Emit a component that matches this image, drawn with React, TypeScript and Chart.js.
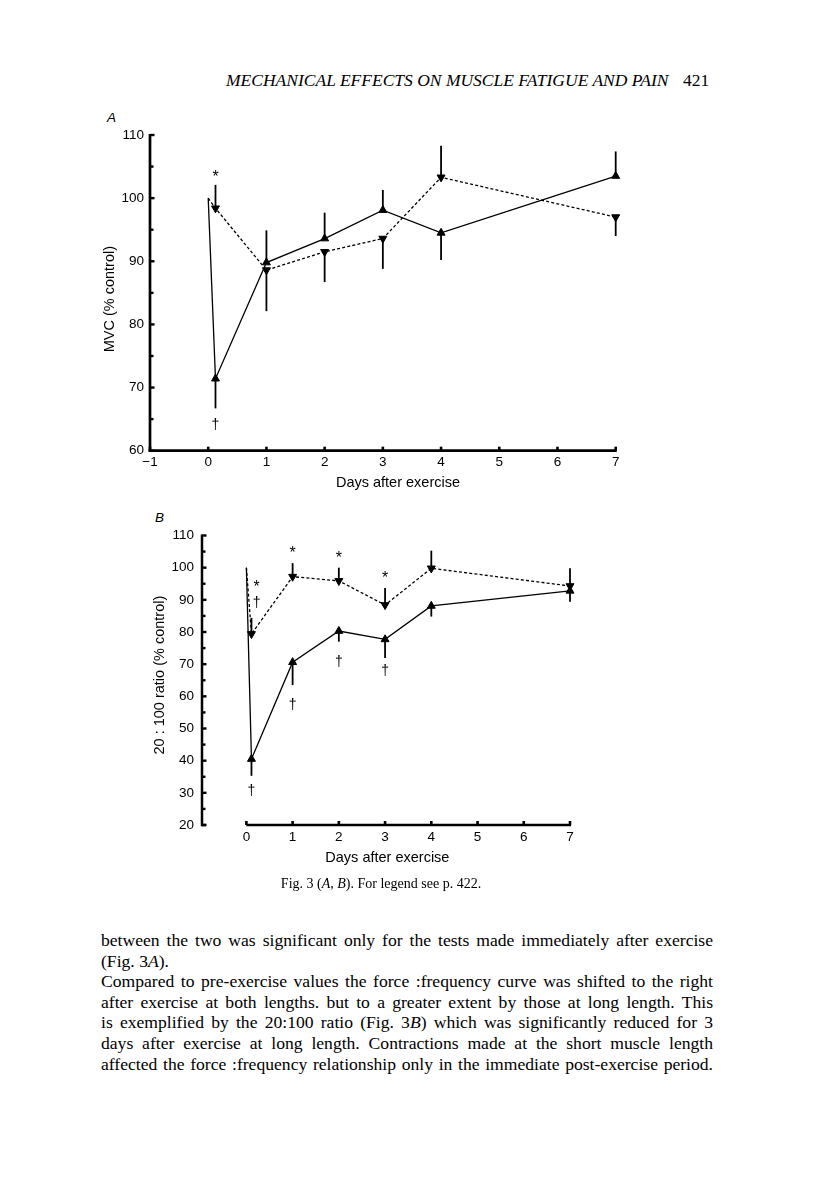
import React, { useEffect, useRef } from "react";
import { Chart, registerables } from "chart.js";

Chart.register(...registerables);

// ---------- Panel A : MVC (% control) ----------
const daysA = [0, 0.125, 1, 2, 3, 4, 7];
const solidA = [100, 71.4, 89.8, 93.6, 98.1, 94.5, 103.5];
const solidAErr = [null, 66.7, 94.9, 97.7, 101.3, 90.2, 107.4];
const dashedA = [100, 98.4, 88.6, 91.5, 93.6, 103.3, 97.0];
const dashedAErr = [null, 102.1, 82.1, 86.7, 88.8, 108.3, 94.0];
const markAX = [0.125, 0.125];
const markAY = [103.5, 64.1];
const markAText = ["*", "\u2020"];
const xTicksA = [-1, 0, 1, 2, 3, 4, 5, 6, 7];

// ---------- Panel B : 20:100 ratio (% control) ----------
const daysB = [0, 0.11, 1, 2, 3, 4, 7];
const solidB = [100, 40.5, 70.6, 80.3, 77.7, 88.1, 92.8];
const solidBErr = [null, 35.3, 63.5, 77.0, 71.9, 84.8, 89.4];
const dashedB = [100, 79.4, 97.2, 95.9, 88.4, 99.8, 94.3];
const dashedBErr = [null, 84.4, 101.4, 100.0, 93.7, 105.3, 99.8];
const markBX = [0.22, 0.22, 1, 2, 3, 0.11, 1, 2, 3];
const markBY = [94.5, 88.9, 104.9, 103.4, 97.2, 30.4, 57.3, 70.5, 67.7];
const markBText = ["*", "\u2020", "*", "*", "*", "\u2020", "\u2020", "\u2020", "\u2020"];
const xTicksB = [0, 1, 2, 3, 4, 5, 6, 7];

const SANS = '"Liberation Sans", Arial, Helvetica, sans-serif';
const SERIF = '"Liberation Serif", "Times New Roman", serif';

type PanelCfg = {
  left: number; top: number; w: number; h: number;
  padTop: number; padRight: number; yWidth: number; xHeight: number;
  xMin: number; xMax: number; yMin: number; yMax: number;
  xTicks: number[]; xAxisFrom: number; hook: boolean;
  days: number[]; solid: number[]; solidErr: (number | null)[];
  dashed: number[]; dashedErr: (number | null)[];
  markX: number[]; markY: number[]; markText: string[];
  xTitle: string; xTitleAt: number; xTitleOff: number;
  yTitle: string; yTitleAt: number; yTitleOff: number;
  yTickPad: number; xTickPad: number; axisW: number;
};

const decorPlugin = {
  id: "decor",
  beforeDatasetsDraw(chart: any) {
    const cfg: PanelCfg = chart.options.plugins.decor.cfg;
    const { ctx, chartArea } = chart;
    const xs = chart.scales.x;
    const ys = chart.scales.y;
    ctx.save();
    ctx.fillStyle = "#000";
    ctx.strokeStyle = "#000";
    const left = chartArea.left;
    const bottom = ys.getPixelForValue(cfg.yMin);
    const yTop = ys.getPixelForValue(cfg.yMax);
    // y axis line
    ctx.lineWidth = cfg.axisW;
    ctx.beginPath();
    ctx.moveTo(left, yTop - 1);
    ctx.lineTo(left, bottom + cfg.axisW / 2);
    ctx.stroke();
    // y ticks every 5 units (major + minor)
    for (let v = cfg.yMin; v <= cfg.yMax; v += 5) {
      const y = ys.getPixelForValue(v);
      const len = v % 10 === 0 ? 4.5 : 3.5;
      ctx.fillRect(left, y - 1.2, len, 2.4);
    }
    if (cfg.hook) {
      ctx.fillRect(left, bottom - cfg.axisW / 2, 4, cfg.axisW);
    }
    // x axis line
    const x0 = xs.getPixelForValue(cfg.xAxisFrom);
    const x1 = xs.getPixelForValue(cfg.xMax);
    ctx.beginPath();
    ctx.moveTo(x0 - (cfg.hook ? 0 : cfg.axisW / 2), bottom);
    ctx.lineTo(x1 + 1, bottom);
    ctx.stroke();
    for (const v of cfg.xTicks) {
      const x = xs.getPixelForValue(v);
      ctx.fillRect(x - 1.3, bottom - 4, 2.6, 4);
    }
    // error bars
    ctx.lineWidth = 1.8;
    chart.data.datasets.forEach((ds: any) => {
      const err = ds.errEnd;
      if (!err) return;
      ds.data.forEach((p: any, j: number) => {
        if (err[j] == null) return;
        const x = xs.getPixelForValue(p.x);
        ctx.beginPath();
        ctx.moveTo(x, ys.getPixelForValue(p.y));
        ctx.lineTo(x, ys.getPixelForValue(err[j]));
        ctx.stroke();
      });
    });
    ctx.restore();
  },
  afterDatasetsDraw(chart: any) {
    const cfg: PanelCfg = chart.options.plugins.decor.cfg;
    const { ctx, chartArea } = chart;
    const xs = chart.scales.x;
    const ys = chart.scales.y;
    ctx.save();
    ctx.fillStyle = "#000";
    ctx.textAlign = "center";
    ctx.textBaseline = "middle";
    cfg.markText.forEach((t, i) => {
      ctx.font = t === "*" ? `16px ${SANS}` : `14px ${SANS}`;
      const dy = t === "*" ? 2 : 0;
      ctx.fillText(t, xs.getPixelForValue(cfg.markX[i]), ys.getPixelForValue(cfg.markY[i]) + dy);
    });
    // axis titles
    ctx.font = `14.5px ${SANS}`;
    ctx.fillText(cfg.xTitle, xs.getPixelForValue(cfg.xTitleAt), chartArea.bottom + cfg.xTitleOff);
    ctx.translate(chartArea.left - cfg.yTitleOff, ys.getPixelForValue(cfg.yTitleAt));
    ctx.rotate(-Math.PI / 2);
    ctx.fillText(cfg.yTitle, 0, 0);
    ctx.restore();
  },
};

function buildConfig(cfg: PanelCfg): any {
  const font = { family: SANS, size: 13.5 };
  const mk = (vals: number[], err: (number | null)[], dashed: boolean) => ({
    data: cfg.days.map((x, i) => ({ x, y: vals[i] })),
    errEnd: err,
    borderColor: "#000",
    borderWidth: 1.3,
    borderDash: dashed ? [3, 2.2] : [],
    pointStyle: "triangle",
    pointRotation: dashed ? 180 : 0,
    pointRadius: vals.map((_, i) => (i === 0 ? 0 : 4.6)),
    pointBackgroundColor: "#000",
    pointBorderColor: "#000",
    pointBorderWidth: 1,
    tension: 0,
    fill: false,
    clip: false,
  });
  return {
    type: "line",
    data: { datasets: [mk(cfg.solid, cfg.solidErr, false), mk(cfg.dashed, cfg.dashedErr, true)] },
    options: {
      animation: false,
      responsive: false,
      maintainAspectRatio: false,
      devicePixelRatio: 1,
      layout: { padding: { left: 0, top: cfg.padTop, right: cfg.padRight, bottom: 0 } },
      plugins: { legend: { display: false }, tooltip: { enabled: false }, decor: { cfg } },
      scales: {
        x: {
          type: "linear",
          min: cfg.xMin,
          max: cfg.xMax,
          afterBuildTicks: (s: any) => {
            s.ticks = cfg.xTicks.map((v) => ({ value: v }));
          },
          ticks: {
            color: "#000",
            font,
            padding: cfg.xTickPad,
            maxRotation: 0,
            autoSkip: false,
            callback: (v: any) => String(v).replace("-", "\u2212"),
          },
          grid: { display: false, drawTicks: false },
          border: { display: false },
          afterFit: (s: any) => {
            s.height = cfg.xHeight;
          },
        },
        y: {
          type: "linear",
          min: cfg.yMin,
          max: cfg.yMax,
          ticks: { color: "#000", font, padding: cfg.yTickPad, stepSize: 10 },
          grid: { display: false, drawTicks: false },
          border: { display: false },
          afterFit: (s: any) => {
            s.width = cfg.yWidth;
          },
        },
      },
    },
    plugins: [decorPlugin],
  };
}

const panelA: PanelCfg = {
  left: 90, top: 100, w: 560, h: 400,
  padTop: 35, padRight: 34.3, yWidth: 60, xHeight: 49.3,
  xMin: -1, xMax: 7, yMin: 60, yMax: 110,
  xTicks: xTicksA, xAxisFrom: -1, hook: false,
  days: daysA, solid: solidA, solidErr: solidAErr, dashed: dashedA, dashedErr: dashedAErr,
  markX: markAX, markY: markAY, markText: markAText,
  xTitle: "Days after exercise", xTitleAt: 3.26, xTitleOff: 32,
  yTitle: "MVC (% control)", yTitleAt: 84, yTitleOff: 40,
  yTickPad: 6, xTickPad: 3.5, axisW: 2.7,
};

const panelB: PanelCfg = {
  left: 130, top: 500, w: 480, h: 380,
  padTop: 35.5, padRight: 40, yWidth: 72, xHeight: 55,
  xMin: -0.96, xMax: 7, yMin: 20, yMax: 110,
  xTicks: xTicksB, xAxisFrom: 0, hook: true,
  days: daysB, solid: solidB, solidErr: solidBErr, dashed: dashedB, dashedErr: dashedBErr,
  markX: markBX, markY: markBY, markText: markBText,
  xTitle: "Days after exercise", xTitleAt: 3.05, xTitleOff: 33,
  yTitle: "20 : 100 ratio (% control)", yTitleAt: 66.6, yTitleOff: 42,
  yTickPad: 8, xTickPad: 4, axisW: 2.5,
};

function Panel({ cfg }: { cfg: PanelCfg }) {
  const ref = useRef<HTMLCanvasElement | null>(null);
  useEffect(() => {
    if (!ref.current) return;
    const chart = new Chart(ref.current, buildConfig(cfg));
    return () => chart.destroy();
  }, [cfg]);
  return (
    <canvas
      ref={ref}
      width={cfg.w}
      height={cfg.h}
      style={{ position: "absolute", left: cfg.left, top: cfg.top, width: cfg.w, height: cfg.h }}
    />
  );
}

const bodyLines: { parts: (string | { i: string })[]; last?: boolean }[] = [
  { parts: ["between the two was significant only for the tests made immediately after exercise"] },
  { parts: ["(Fig. 3", { i: "A" }, ")."], last: true },
  { parts: ["Compared to pre-exercise values the force :frequency curve was shifted to the right"] },
  { parts: ["after exercise at both lengths. but to a greater extent by those at long length. This"] },
  { parts: ["is exemplified by the 20:100 ratio (Fig. 3", { i: "B" }, ") which was significantly reduced for 3"] },
  { parts: ["days after exercise at long length. Contractions made at the short muscle length"] },
  { parts: ["affected the force :frequency relationship only in the immediate post-exercise period."] },
];

export default function App() {
  return (
    <div
      style={{
        position: "absolute",
        left: 0,
        top: 0,
        width: 816,
        height: 1183,
        background: "#fff",
        color: "#000",
        fontFamily: SERIF,
        overflow: "hidden",
      }}
    >
      <div
        style={{
          position: "absolute",
          left: 226,
          top: 71,
          width: 420,
          fontSize: 17.5,
          lineHeight: "18px",
          fontStyle: "italic",
          whiteSpace: "nowrap",
          textAlign: "justify",
          textAlignLast: "justify",
        }}
      >
        MECHANICAL EFFECTS ON MUSCLE FATIGUE AND PAIN
      </div>
      <div style={{ position: "absolute", left: 683, top: 71, fontSize: 17.5, lineHeight: "18px" }}>421</div>

      <div
        style={{
          position: "absolute",
          left: 107,
          top: 111,
          fontFamily: SANS,
          fontStyle: "italic",
          fontSize: 13.5,
          lineHeight: "14px",
        }}
      >
        A
      </div>
      <div
        style={{
          position: "absolute",
          left: 155,
          top: 511,
          fontFamily: SANS,
          fontStyle: "italic",
          fontSize: 13.5,
          lineHeight: "14px",
        }}
      >
        B
      </div>

      <Panel cfg={panelA} />
      <Panel cfg={panelB} />

      <div
        style={{
          position: "absolute",
          left: 200,
          width: 362,
          top: 876,
          textAlign: "center",
          fontSize: 14,
          lineHeight: "16px",
        }}
      >
        Fig. 3 (<i>A</i>, <i>B</i>). For legend see p. 422.
      </div>

      {bodyLines.map((ln, k) => (
        <div
          key={k}
          style={{
            position: "absolute",
            left: 101,
            width: 612,
            top: 930 + k * 20.6,
            fontSize: 17.6,
            lineHeight: "20px",
            whiteSpace: "nowrap",
            textAlign: "justify",
            textAlignLast: ln.last ? "left" : "justify",
          }}
        >
          {ln.parts.map((p, j) => (typeof p === "string" ? <span key={j}>{p}</span> : <i key={j}>{p.i}</i>))}
        </div>
      ))}
    </div>
  );
}
